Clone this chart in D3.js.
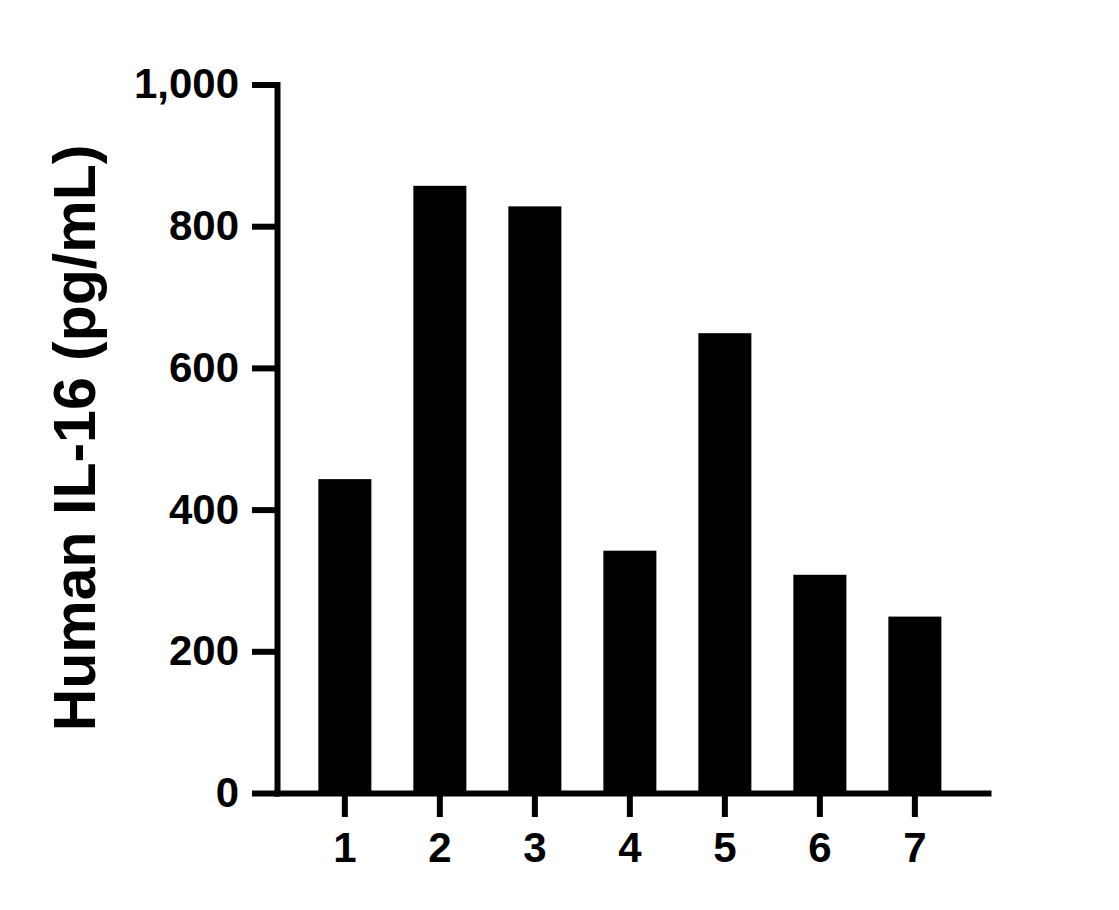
<!DOCTYPE html>
<html>
<head>
<meta charset="utf-8">
<script src="https://cdn.jsdelivr.net/npm/d3@7"></script>
<style>
  body { margin: 0; background: #fff; }
  text { font-family: "Liberation Sans", Arial, sans-serif; font-weight: bold; fill: #000; }
</style>
</head>
<body>
<svg width="1119" height="910"></svg>
<script>
var categorias = ["1", "2", "3", "4", "5", "6", "7"];
var valores = [443, 857, 828, 342, 649, 308, 249];
var ticksY = [0, 200, 400, 600, 800, 1000];
var tituloY = "Human IL-16 (pg/mL)";

var svg = d3.select("svg");

var xScale = d3.scaleBand()
  .domain(categorias)
  .range([277, 988])
  .paddingInner(0.442)
  .paddingOuter(0.463)
  .align(0.47);

var yScale = d3.scaleLinear()
  .domain([0, 1000])
  .range([793, 84.5]);

// barras
svg.append("g")
  .selectAll("rect")
  .data(valores)
  .enter()
  .append("rect")
  .attr("x", function (d, i) { return xScale(categorias[i]); })
  .attr("width", xScale.bandwidth())
  .attr("y", function (d) { return yScale(d); })
  .attr("height", function (d) { return yScale(0) - yScale(d); })
  .attr("fill", "#000");

var yAxis = d3.axisLeft(yScale)
  .tickValues(ticksY)
  .tickSize(25)
  .tickSizeOuter(0)
  .tickPadding(13)
  .tickFormat(d3.format(","));

var gy = svg.append("g")
  .attr("transform", "translate(277,0)")
  .call(yAxis);

var xAxis = d3.axisBottom(xScale)
  .tickSize(24)
  .tickSizeOuter(0)
  .tickPadding(15);

var gx = svg.append("g")
  .attr("transform", "translate(0,793)")
  .call(xAxis);

[gy, gx].forEach(function (g) {
  g.select(".domain")
    .attr("stroke", "#000")
    .attr("stroke-width", 6)
    .attr("stroke-linecap", "square");
  g.selectAll(".tick line")
    .attr("stroke", "#000")
    .attr("stroke-width", 6);
  g.selectAll(".tick text")
    .attr("font-size", 42)
    .attr("font-family", "Liberation Sans, Arial, sans-serif")
    .attr("font-weight", "bold")
    .attr("fill", "#000");
});

svg.append("text")
  .attr("transform", "translate(95,438) rotate(-90)")
  .attr("text-anchor", "middle")
  .attr("font-size", 59)
  .text(tituloY);
</script>
</body>
</html>
